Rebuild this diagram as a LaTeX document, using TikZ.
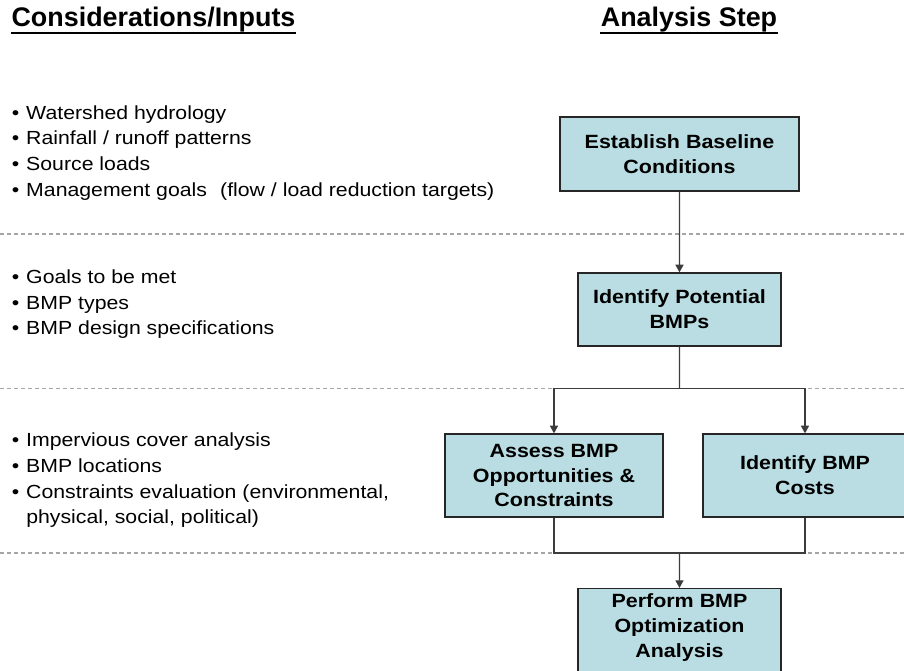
\documentclass[tikz,border=0pt]{standalone}
\usepackage{fontspec}
\setmainfont{Liberation Sans}[FakeStretch=1.12]
\newfontfamily\headfont{Liberation Sans}
\usetikzlibrary{arrows.meta}

\definecolor{boxfill}{RGB}{185,221,226}
\definecolor{rulegray}{RGB}{165,165,165}
\definecolor{wiregray}{RGB}{60,60,60}
\newcommand{\bul}{\makebox[8.2pt][l]{\textbullet}}

\begin{document}
\begin{tikzpicture}[scale=0.2]
    \tikzstyle{every node}+=[inner sep=0pt]
    \tikzstyle{heading}=[font=\headfont\fontsize{15.3}{17}\selectfont\bfseries, anchor=base]
    \tikzstyle{inputs}=[font=\fontsize{10.8}{14.6}\selectfont, align=left, anchor=north west]
    \tikzstyle{stepbox}=[draw=black!85, line width=0.75pt, fill=boxfill, align=center, font=\fontsize{10.9}{14.2}\selectfont\bfseries]
    \tikzstyle{wire}=[draw=wiregray, line width=0.75pt]
    \tikzstyle{flow}=[wire, -{Triangle[length=4.4pt,width=4.6pt]}]
    \tikzstyle{divider}=[rulegray, line width=0.6pt, dash pattern=on 2.3pt off 1.7pt]

    \useasboundingbox (0,0) rectangle (90.4,-67);
    \fill [white] (0,0) rectangle (90.4,-67);

    % dashed lines between the rows
    \draw [divider] (0,-23.4) -- (90.4,-23.4);
    \draw [divider] (0,-38.85) -- (90.4,-38.85);
    \draw [divider] (0,-55.3) -- (90.4,-55.3);

    % column headings
    \node [heading] (hin) at (15.35,-2.67) {Considerations/Inputs};
    \node [heading] (hstep) at (68.9,-2.67) {Analysis Step};
    \draw [line width=1.2pt] (hin.south west) -- (hin.south east);
    \draw [line width=1.2pt] (hstep.south west) -- (hstep.south east);

    % left column: what goes into each step
    \node [inputs] (in1) at (1.15,-10.5) {\bul Watershed hydrology\\
        \bul Rainfall / runoff patterns\\
        \bul Source loads\\
        \bul Management goals\hspace{7.5pt}(flow / load reduction targets)};
    \node [inputs] (in2) at (1.15,-26.94) {\bul Goals to be met\\
        \bul BMP types\\
        \bul BMP design specifications};
    \node [inputs] (in3) at (1.15,-43.28) {\bul Impervious cover analysis\\
        \bul BMP locations\\
        \bul Constraints evaluation (environmental,\\
        \hspace*{8.2pt}physical, social, political)};

    % right column: the steps
    \node [stepbox, minimum width=136pt, minimum height=42.1pt] (base) at (67.95,-15.4) {Establish Baseline\\Conditions};
    \node [stepbox, minimum width=115.5pt, minimum height=41.5pt] (pot) at (67.95,-30.95) {Identify Potential\\BMPs};
    \node [stepbox, minimum width=124pt, minimum height=47.2pt] (opp) at (55.4,-47.55) {Assess BMP\\Opportunities \&\\Constraints};
    \node [stepbox, minimum width=116pt, minimum height=47.2pt] (cost) at (80.5,-47.55) {Identify BMP\\Costs};
    \node [stepbox, minimum width=115.5pt, anchor=north, inner ysep=3pt, text depth=7.5pt] (perf) at (67.95,-58.8) {Perform BMP\\Optimization\\Analysis};

    \coordinate (fork) at (67.95,-38.85);
    \coordinate (join) at (67.95,-55.3);

    \draw [flow] (base) -- (pot);
    \draw [wire] (pot) -- (fork);
    \draw [flow] (fork) -| (opp);
    \draw [flow] (fork) -| (cost);
    \draw [wire] (opp) |- (join);
    \draw [wire] (cost) |- (join);
    \draw [flow] (join) -- (perf);
\end{tikzpicture}
\end{document}
